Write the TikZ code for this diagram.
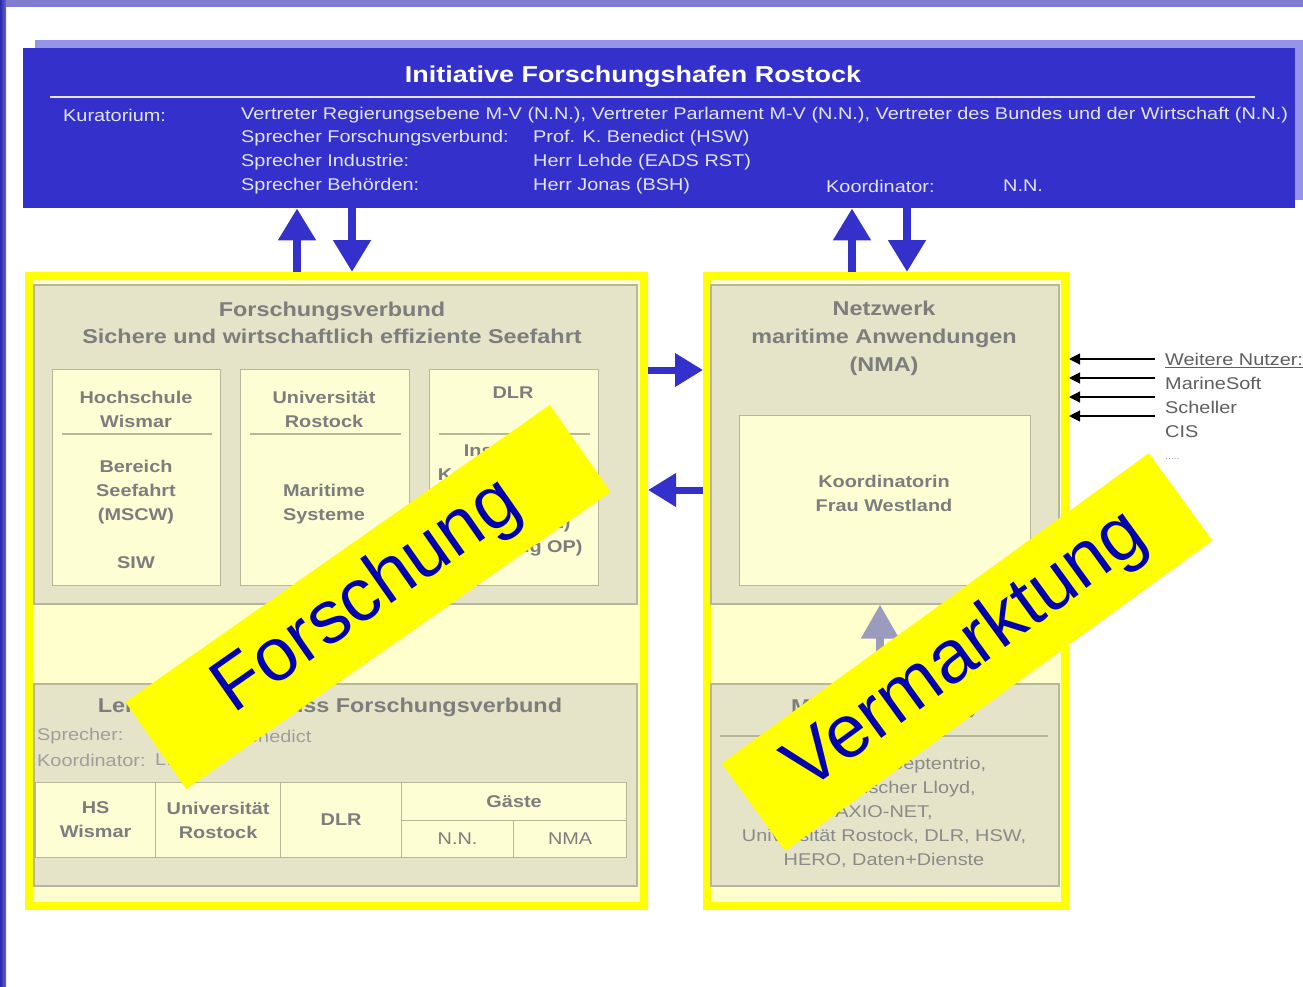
\documentclass[tikz,border=0pt]{standalone}
\usepackage{fontspec}
\setmainfont{Liberation Sans}[FakeStretch=1.17]
\newfontfamily\stampfont{Liberation Sans}
\usetikzlibrary{arrows.meta}
\definecolor{slideblue}{RGB}{51,48,204}
\definecolor{bandblue}{RGB}{150,148,232}
\definecolor{stripblue}{RGB}{40,40,175}
\definecolor{stripviolet}{RGB}{128,124,208}
\definecolor{frameyellow}{RGB}{255,255,0}
\definecolor{paleyellow}{RGB}{255,255,205}
\definecolor{boxgray}{RGB}{229,228,200}
\definecolor{boxedge}{RGB}{182,182,152}
\definecolor{cellyellow}{RGB}{254,254,212}
\definecolor{graytext}{RGB}{125,125,125}
\definecolor{lighttext}{RGB}{158,158,158}
\definecolor{usertext}{RGB}{95,95,95}
\definecolor{whitetext}{RGB}{228,228,242}
\definecolor{markblue}{RGB}{0,0,175}
\definecolor{arrowgray}{RGB}{155,155,190}
\tikzset{yframe/.style={draw=frameyellow, line width=8pt, fill=paleyellow,
           inner sep=0pt, anchor=north west},
         graybox/.style={draw=boxedge, line width=1.5pt, fill=boxgray,
           inner sep=0pt, anchor=north west},
         cellbox/.style={draw=boxedge, line width=1.2pt, fill=cellyellow,
           inner sep=0pt, anchor=north west},
         bantext/.style={text=whitetext, font=\fontsize{17}{24}\selectfont,
           anchor=west, inner sep=0pt},
         boxtitle/.style={text=graytext, font=\bfseries\fontsize{20}{27}\selectfont,
           align=center, inner sep=0pt},
         celltext/.style={text=graytext, font=\bfseries\fontsize{17}{24}\selectfont,
           align=center, inner sep=0pt},
         thintext/.style={text=lighttext, font=\fontsize{17}{24}\selectfont,
           inner sep=0pt},
         bigarrow/.style={draw=slideblue, line width=8pt,
           -{Triangle[width=36pt,length=32pt]}},
         userarrow/.style={draw=black, line width=1.2pt,
           -{Triangle[width=11pt,length=11pt]}},
         stamp/.style={fill=frameyellow, text=markblue, rotate=#1, inner sep=0pt,
           font=\stampfont\fontsize{75}{75}\selectfont}}

\begin{document}
\begin{tikzpicture}[x=1pt, y=-1pt]
    \useasboundingbox[fill=white] (0,0) rectangle (1303,987);
    \fill[stripviolet] (0,0) rectangle (1303,7);
    \shade[left color=stripblue, right color=stripblue!70!white] (0,0) rectangle (6,987);

    % Initiative
    \fill[bandblue] (35,40) rectangle (1303,200);
    \node[fill=slideblue, inner sep=0pt, anchor=north west,
          minimum width=1272, minimum height=160] (banner) at (23,48) {};
    \node[text=white, font=\bfseries\fontsize{23}{27}\selectfont] (title) at (633,77)
      {Initiative Forschungshafen Rostock};
    \draw[whitetext, line width=1.5pt] (50,97) -- (1255,97);
    \node[bantext] (kur) at (63,115) {Kuratorium:};
    \node[bantext] at (241,115) {Vertreter Regierungsebene M-V (N.N.), Vertreter Parlament M-V (N.N.), Vertreter des Bundes und der Wirtschaft (N.N.)};
    \node[bantext] at (241,138) {Sprecher Forschungsverbund:};
    \node[bantext] at (241,162) {Sprecher Industrie:};
    \node[bantext] at (241,186) {Sprecher Behörden:};
    \node[bantext] at (533,138) {Prof. K. Benedict (HSW)};
    \node[bantext] at (533,162) {Herr Lehde (EADS RST)};
    \node[bantext] at (533,186) {Herr Jonas (BSH)};
    \node[bantext] at (826,186) {Koordinator:};
    \node[bantext] at (1003,186) {N.N.};

    % Forschung
    \node[yframe, minimum width=615, minimum height=630] (lf) at (25,272) {};
    \node[graybox, minimum width=603, minimum height=319] (fv) at (33,284) {};
    \node[boxtitle] at (332,323)
      {Forschungsverbund\\Sichere und wirtschaftlich effiziente Seefahrt};
    \node[cellbox, minimum width=168, minimum height=216] (hsw) at (52,369) {};
    \node[cellbox, minimum width=169, minimum height=216] (uro) at (240,369) {};
    \node[cellbox, minimum width=169, minimum height=216] (dlr) at (429,369) {};
    \foreach \xa/\xb in {62/212, 250/401, 439/590}
      \draw[boxedge, line width=1.5pt] (\xa,434) -- (\xb,434);
    \node[celltext] at (136,409) {Hochschule\\Wismar};
    \node[celltext] at (136,492) {Bereich\\Seefahrt\\(MSCW)};
    \node[celltext] at (136,563) {SIW};
    \node[celltext] at (324,409) {Universität\\Rostock};
    \node[celltext] at (324,504) {Maritime\\Systeme};
    \node[celltext] at (513,393) {DLR};
    \node[celltext] at (513,500)
      {Institut für\\Kommunikation\\und Navigation\\(Neustrelitz)\\(Abteilung OP)};

    \node[graybox, minimum width=603, minimum height=202] (lk) at (33,683) {};
    \node[boxtitle] at (330,707) {Lenkungsausschuss Forschungsverbund};
    \node[thintext, anchor=west] at (37,736) {Sprecher:};
    \node[thintext, anchor=west] at (160,736) {Prof. K. Benedict};
    \node[thintext, anchor=west] at (37,760) {Koordinator:};
    \node[thintext, anchor=west] at (155,760) {L.};
    \node[cellbox, celltext, minimum width=120, minimum height=75] (hs) at (35,782) {HS\\Wismar};
    \node[cellbox, celltext, minimum width=125, minimum height=75] (ur) at (155,782) {Universität\\Rostock};
    \node[cellbox, celltext, minimum width=121, minimum height=75] (dl) at (280,782) {DLR};
    \node[cellbox, celltext, minimum width=225, minimum height=38] (gae) at (401,782) {Gäste};
    \node[cellbox, celltext, font=\fontsize{17}{24}\selectfont,
          minimum width=112, minimum height=37] (nn) at (401,820) {N.N.};
    \node[cellbox, celltext, font=\fontsize{17}{24}\selectfont,
          minimum width=113, minimum height=37] (nm) at (513,820) {NMA};

    % Vermarktung
    \node[yframe, minimum width=358, minimum height=630] (rf) at (703,272) {};
    \node[graybox, minimum width=348, minimum height=319] (nma) at (710,284) {};
    \node[boxtitle, font=\bfseries\fontsize{20}{28}\selectfont] at (884,338)
      {Netzwerk\\maritime Anwendungen\\(NMA)};
    \node[cellbox, minimum width=291, minimum height=170] (koord) at (739,415) {};
    \node[celltext] at (884,493) {Koordinatorin\\Frau Westland};
    \node[graybox, minimum width=348, minimum height=202] (mit) at (710,683) {};
    \node[boxtitle] at (884,708) {Mitglieder (NMA)};
    \draw[boxedge, line width=1.5pt] (720,736) -- (1048,736);
    \node[thintext, text=graytext!90!white, align=center] at (884,812)
      {EADS RST, Septentrio,\\Germanischer Lloyd,\\AXIO-NET,\\Universität Rostock, DLR, HSW,\\HERO, Daten+Dienste};
    \draw[draw=arrowgray, line width=8pt, -{Triangle[width=36pt,length=34pt]}]
      (880,0 |- mit.north) -- (880,0 |- nma.south);

    \node[thintext, text=usertext, align=left, anchor=north west] (users) at (1165,353)
      {\underline{Weitere Nutzer:}\\MarineSoft\\Scheller\\CIS};
    \node[thintext, font=\fontsize{9}{10}\selectfont, anchor=west] (dots) at (1165,459) {.....};
    \foreach \y in {359,378,397,416}
      \draw[userarrow] ([xshift=-10pt]users.west |- 0,\y) -- (rf.east |- 0,\y);

    % arrows
    \draw[bigarrow] (297,0 |- lf.north) -- (297,0 |- banner.south);
    \draw[bigarrow] (352,0 |- banner.south) -- (352,0 |- lf.north);
    \draw[bigarrow] (852,0 |- rf.north) -- (852,0 |- banner.south);
    \draw[bigarrow] (907,0 |- banner.south) -- (907,0 |- rf.north);
    \draw[bigarrow, line width=7pt, -{Triangle[width=32pt,length=28pt]}]
      (lf.east |- 0,370) -- (rf.west |- 0,370);
    \draw[bigarrow, line width=7pt, -{Triangle[width=32pt,length=28pt]}]
      (rf.west |- 0,490) -- (lf.east |- 0,490);

    \node[stamp=35, minimum width=518, minimum height=106] (forschung) at (368,597) {Forschung};
    \node[stamp=36, minimum width=528, minimum height=108] (vermarktung) at (967,652) {Vermarktung};
\end{tikzpicture}
\end{document}
